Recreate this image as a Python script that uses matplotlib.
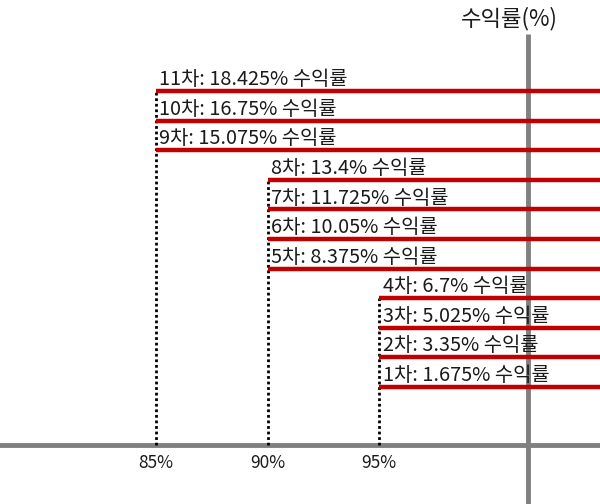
import matplotlib
matplotlib.use("Agg")
import matplotlib.pyplot as plt

plt.rcParams['font.family'] = ['Noto Sans CJK KR', 'DejaVu Sans']

# data
rounds = [1, 2, 3, 4, 5, 6, 7, 8, 9, 10, 11]
returns = [1.675, 3.35, 5.025, 6.7, 8.375, 10.05, 11.725, 13.4, 15.075, 16.75, 18.425]
starts = [95, 95, 95, 95, 90, 90, 90, 90, 85, 85, 85]
tick_pos = [85, 90, 95]
tick_labels = ["85%", "90%", "95%"]
y_axis_x = 101.65
x_axis_y = -1.6

fig = plt.figure(figsize=(6, 5.04), dpi=100)
ax = fig.add_axes([0, 0, 1, 1])
ax.set_xlim(78.0, 104.9)
ax.set_ylim(-4.95, 23.58)
ax.axis("off")

red = "#C00000"
gray = "#808080"
ink = "#1a1a1a"

# axes lines
ax.axhline(x_axis_y, color=gray, lw=3.5, zorder=1)
ax.plot([y_axis_x, y_axis_x], [-4.95, 21.65], color=gray, lw=3.5, zorder=1,
        solid_capstyle="butt")
ax.text(y_axis_x - 0.8, 22.55, "수익률(%)", fontsize=16, ha="center", va="center",
        color=ink)

# dotted drop lines from highest level in each group
for s in tick_pos:
    top = max(r for r, st in zip(returns, starts) if st == s)
    ax.plot([s, s], [x_axis_y, top], color="black", lw=2, ls=(0, (1, 1)), zorder=2)

# red levels and labels
for n, r, s in zip(rounds, returns, starts):
    ax.plot([s, 104.9], [r, r], color=red, lw=3.2, solid_capstyle="butt", zorder=3)
    ax.text(s + 0.15, r + 0.05, f"{n}차: {r:g}% 수익률", fontsize=14.3,
            ha="left", va="bottom", color=ink)

# x tick labels
for p, lab in zip(tick_pos, tick_labels):
    ax.text(p, x_axis_y - 0.5, lab, fontsize=12.5, ha="center", va="top",
            color=ink)

fig.savefig("out.png", dpi=100)
